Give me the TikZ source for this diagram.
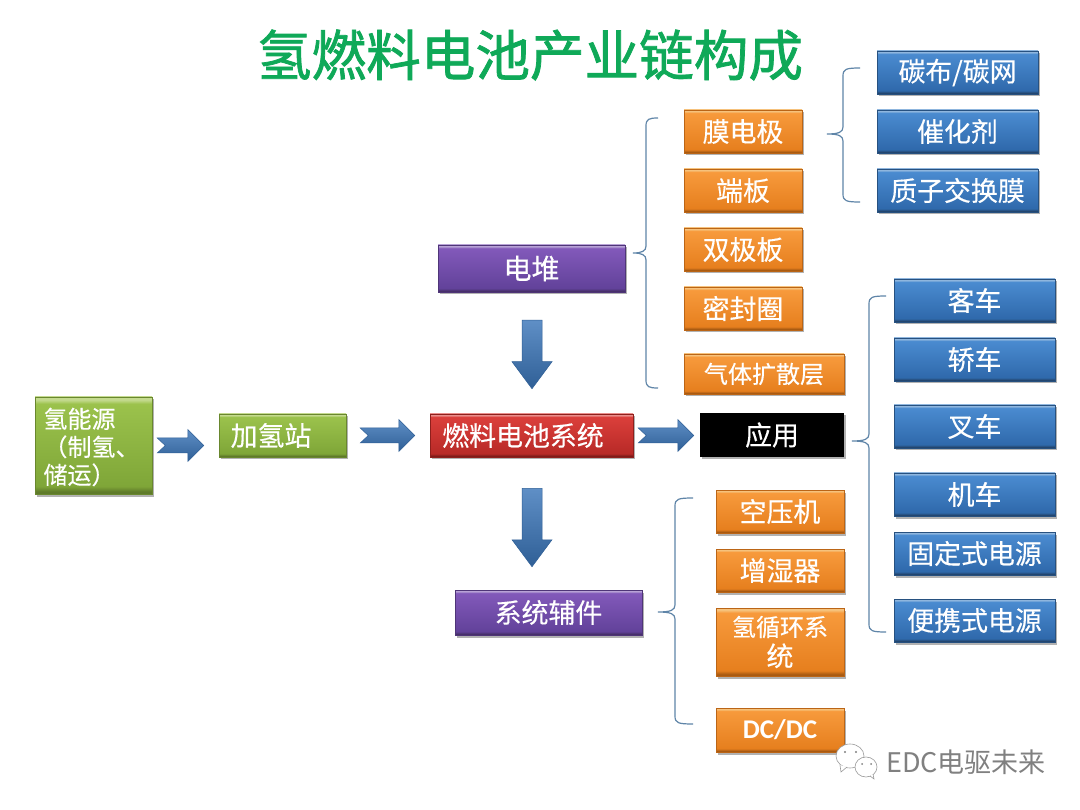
\documentclass[tikz,border=0pt]{standalone}
\usepackage{fontspec}
\setmainfont{Noto Sans CJK SC}
\newfontfamily\latinbold{Carlito}
\newfontfamily\boxfont[FakeBold=0.35]{Noto Sans CJK SC}
\newfontfamily\titlefont[FakeBold=1.4]{Noto Sans CJK SC}
\usetikzlibrary{shadows,calc}
\newcommand{\mkshade}[5]{\pgfdeclareverticalshading{#1}{100bp}{color(0bp)=(#2);color(25bp)=(#2);color(26.2bp)=(#2);color(29bp)=(#3);color(71.5bp)=(#4);color(73.5bp)=(#5);color(75bp)=(#5);color(100bp)=(#5)}}
\definecolor{oA}{HTML}{A85A12}\definecolor{oB}{HTML}{E67F1E}\definecolor{oC}{HTML}{F79A3C}\definecolor{oD}{HTML}{F6C27C}
\definecolor{bA}{HTML}{23466E}\definecolor{bB}{HTML}{2F69AB}\definecolor{bC}{HTML}{4A8BD0}\definecolor{bD}{HTML}{8FB6DE}
\definecolor{gA}{HTML}{5F7A2A}\definecolor{gB}{HTML}{7FA638}\definecolor{gC}{HTML}{9BC24C}\definecolor{gD}{HTML}{C4DA8E}
\definecolor{rA}{HTML}{7E1A18}\definecolor{rB}{HTML}{B82A27}\definecolor{rC}{HTML}{DB3F3B}\definecolor{rD}{HTML}{EA8E8B}
\definecolor{pA}{HTML}{47306A}\definecolor{pB}{HTML}{62429A}\definecolor{pC}{HTML}{8259BA}\definecolor{pD}{HTML}{B8A2D6}
\definecolor{arL}{HTML}{5F8FC6}\definecolor{arD}{HTML}{2F5F96}
\definecolor{braceC}{HTML}{5F85A8}
\definecolor{titleC}{HTML}{0FA958}
\mkshade{shO}{oA}{oB}{oC}{oD}
\mkshade{shB}{bA}{bB}{bC}{bD}
\mkshade{shG}{gA}{gB}{gC}{gD}
\mkshade{shR}{rA}{rB}{rC}{rD}
\mkshade{shP}{pA}{pB}{pC}{pD}
\tikzset{
  basebox/.style={inner sep=0pt,text=white,align=center,line width=.5pt,font=\boxfont\fontsize{26.9}{30}\selectfont,
    drop shadow={shadow xshift=1.5pt,shadow yshift=-2.5pt,opacity=.3,fill=black}},
  obox/.style={basebox,shading=shO,draw=oA!70!oB},
  bbox/.style={basebox,shading=shB,draw=bA!70!bB},
  gbox/.style={basebox,shading=shG,draw=gA!70!gB},
  rbox/.style={basebox,shading=shR,draw=rA!70!rB},
  pbox/.style={basebox,shading=shP,draw=pA!70!pB},
  kbox/.style={basebox,fill=black},
  brc/.style={draw=braceC,line width=1.2pt},
  blockarrow/.style={top color=arL,bottom color=arD,draw=arD,line width=.5pt},
}
\newcommand{\bx}[7]{% name, style, x1,y1,x2,y2, text
  \pgfmathsetmacro\bxw{#5-#3}\pgfmathsetmacro\bxh{#6-#4}
  \node[#2,minimum width=\bxw pt,minimum height=\bxh pt] (#1) at ({(#3+#5)/2},{(#4+#6)/2}) {#7};}
\newcommand{\brc}[7]{% name, tipx, spine, endx, top, mid, bottom
  \coordinate (#1tip) at (#2,#6);\coordinate (#1top) at (#4,#5);\coordinate (#1bot) at (#4,#7);
  \draw[brc] (#1top) .. controls ({#3+3},#5) and (#3,{#5+1}) .. (#3,{#5+8})
   -- (#3,{#6-7}) .. controls (#3,{#6-2}) and ({#3-4},#6) .. (#1tip)
   .. controls ({#3-4},#6) and (#3,{#6+2}) .. (#3,{#6+7})
   -- (#3,{#7-8}) .. controls (#3,{#7-1}) and ({#3+3},#7) .. (#1bot);}
\newcommand{\harr}[4]{% src, dst, gap after src, gap before dst
  \coordinate (ha) at ($(#1.east)+(#3pt,0pt)$);
  \path[blockarrow] let \p1=(ha),\p2=(#2.west),\n1={\x2-#4pt},\n2={\n1-16pt},\n3={\x1+8pt} in
   (\x1,\y1+7.5pt) -- (\n2,\y1+7.5pt) -- (\n2,\y1+16pt) -- (\n1,\y1) -- (\n2,\y1-16pt)
   -- (\n2,\y1-7.5pt) -- (\x1,\y1-7.5pt) -- (\n3,\y1) -- cycle;}
\newcommand{\varr}[5]{% src, dst, x, gap after src, gap before dst
  \path[blockarrow] let \p1=(#1.south),\p2=(#2.north),\n1={\y1-#4pt},\n2={\y2+#5pt},\n3={\n2+27pt},\n4={#3pt} in
   (\n4-10pt,\n1) -- (\n4+10pt,\n1) -- (\n4+10pt,\n3) -- (\n4+20pt,\n3) -- (\n4,\n2)
   -- (\n4-20pt,\n3) -- (\n4-10pt,\n3) -- cycle;}
\begin{document}
\begin{tikzpicture}[x=1pt,y=-1pt]
\useasboundingbox[fill=white] (0,0) rectangle (1080,810);
\node[text=titleC,inner sep=0pt,font=\titlefont\fontsize{54.6}{60}\selectfont] (title) at (530,55) {氢燃料电池产业链构成};
% left chain
\bx{h2}{gbox}{35}{397}{152}{494}{\parbox{100pt}{\raggedright\fontsize{24}{28}\selectfont\vspace*{3pt}氢能源\\（制氢、\\储运）}}
\bx{jq}{gbox}{219}{414}{346}{457}{加氢站\hspace{23pt}}
\bx{fc}{rbox}{430}{414}{633}{457}{燃料电池系统\hspace{17pt}}
\bx{yy}{kbox}{700}{413}{844}{457}{应用}
\bx{dd}{pbox}{438}{245}{625}{292}{\fontsize{28}{30}\selectfont 电堆}
\bx{xt}{pbox}{455}{590}{642}{635}{系统辅件}
% stack parts
\bx{mdj}{obox}{684}{110}{802}{153}{膜电极}
\bx{db}{obox}{684}{169}{802}{212}{端板}
\bx{sjb}{obox}{684}{228}{802}{271}{双极板}
\bx{mfq}{obox}{684}{287}{802}{330}{密封圈}
\bx{qt}{obox}{684}{354}{844}{394}{\fontsize{24}{28}\selectfont 气体扩散层}
% aux parts
\bx{kyj}{obox}{716}{490}{844}{533}{空压机}
\bx{zsq}{obox}{716}{549}{844}{592}{增湿器}
\bx{qxh}{obox}{716}{608}{844}{676}{\fontsize{24}{27}\selectfont\rule{0pt}{20pt}氢循环系\\统}
\bx{dc}{obox}{716}{708}{844}{752}{\latinbold\bfseries\fontsize{27}{30}\selectfont DC/DC}
% MEA parts
\bx{tb}{bbox}{877}{51}{1038}{94}{碳布/碳网}
\bx{chj}{bbox}{877}{110}{1038}{153}{催化剂}
\bx{zz}{bbox}{877}{169}{1038}{212}{质子交换膜}
% applications
\bx{kc}{bbox}{894}{279}{1055}{322}{客车}
\bx{jc}{bbox}{894}{338}{1055}{381}{轿车}
\bx{cc}{bbox}{894}{405}{1055}{448}{叉车}
\bx{jiche}{bbox}{894}{473}{1055}{516}{机车}
\bx{gd}{bbox}{894}{532}{1055}{575}{固定式电源}
\bx{bxs}{bbox}{894}{599}{1055}{642}{便携式电源}
% braces
\brc{ba}{633}{646}{658}{118}{253}{388}
\brc{bb}{827}{843}{860}{68}{134}{202}
\brc{bc}{852}{869}{886}{296}{441}{632}
\brc{bd}{658}{675}{693}{498}{612}{724}
% block arrows
\harr{h2}{jq}{5}{15}
\harr{jq}{fc}{14}{15}
\harr{fc}{yy}{5}{6}
\varr{dd}{fc}{532}{28}{25}
\varr{fc}{xt}{532}{31}{23}
% watermark
\node[text=black!50,inner sep=0pt,anchor=west,font=\fontsize{27}{30}\selectfont] (wm) at (886,762) {EDC电驱未来};
\coordinate (wa) at (850,756);\coordinate (wb) at (866,767);
\draw[black!40,fill=white,line width=.6pt] (wa) ellipse [x radius=14,y radius=12];
\draw[black!40,fill=white,line width=.6pt] (wb) ellipse [x radius=11,y radius=10];
\draw[black!40,fill=white,line width=.6pt] (840,765) -- (841,772) -- (847,767);
\draw[black!40,fill=white,line width=.6pt] (870,776) -- (874,779) -- (873,774);
\fill[black!50] (845,752) circle (1.1) (856,752) circle (1.1) (862,764) circle (1) (871,764) circle (1);
\end{tikzpicture}
\end{document}
